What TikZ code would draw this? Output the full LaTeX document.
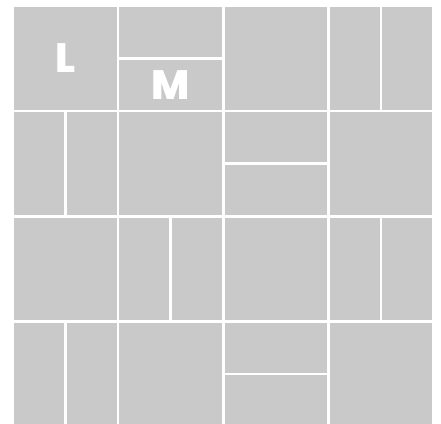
\documentclass[tikz,border=0pt]{standalone}
\usepackage{fontspec}
\usepackage{tikz}
\newfontfamily\tilefont{Poppins ExtraBold}
\definecolor{tilegray}{HTML}{C9C9C9}

\begin{document}
\begin{tikzpicture}[x=1pt,y=-1pt,
  tile/.style={rectangle,fill=tilegray,draw=none,inner sep=0pt,anchor=north west,
               minimum width=102.6pt,minimum height=102.6pt},
  gapline/.style={draw=white,line width=2.6pt},
  tilelbl/.style={font=\tilefont\fontsize{41}{41}\selectfont,text=white,inner sep=0pt}]
\useasboundingbox[fill=white] (0,0) rectangle (441,423);
\clip (0,0) rectangle (441,423);
% 4x4 grid of square tiles
\foreach \r in {0,...,3}
  \foreach \c in {0,...,3}
    \node[tile] (t\r\c) at ({14+105.2*\c},{7+105.2*\r}) {};
% tiles cut in two
\foreach \t in {01,12,32}
  \draw[gapline] (t\t.west) -- (t\t.east);
\foreach \t in {03,10,21,23,30}
  \draw[gapline] (t\t.north) -- (t\t.south);
\node[tilelbl] (lblL) at (t00.center) {L};
\node[tilelbl] (lblM) at ([yshift=-26.3pt]t01.center) {M};
\end{tikzpicture}
\end{document}
